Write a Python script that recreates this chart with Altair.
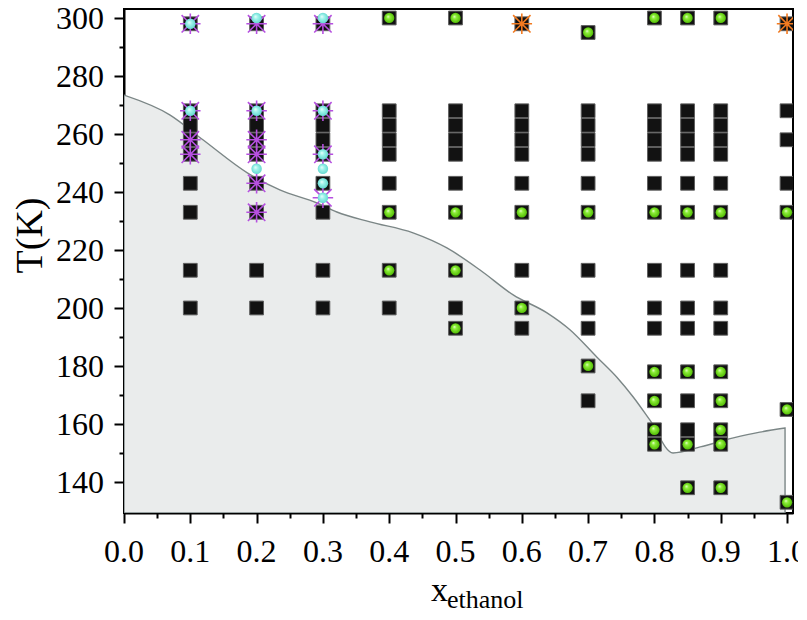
import altair as alt
import pandas as pd

# ---------------- data ----------------
# outline of the shaded (glassy / supercooled) region
boundary_x = [0.0, 0.069, 0.119, 0.186, 0.235, 0.291, 0.321, 0.371, 0.436, 0.487,
              0.537, 0.587, 0.638, 0.673, 0.713, 0.743, 0.768, 0.793, 0.828, 0.869,
              0.919, 0.959, 0.997]
boundary_T = [273.4, 266.6, 258.0, 246.6, 240.7, 236.2, 233.1, 229.7, 225.9, 220.7,
              213.1, 204.5, 198.3, 192.4, 183.1, 176.2, 169.3, 161.4, 150.0, 152.1,
              155.2, 157.2, 158.6]

# black squares
sq_x = ([0.1] * 9 + [0.2] * 9 + [0.3] * 9 + [0.4] * 9 + [0.5] * 10 + [0.6] * 10 +
        [0.7] * 12 + [0.8] * 14 + [0.85] * 15 + [0.9] * 15 + [1.0] * 7)
sq_T = ([298, 268, 263, 258, 253, 243, 233, 213, 200] +
        [298, 268, 263, 258, 253, 243, 233, 213, 200] +
        [298, 268, 263, 258, 253, 243, 233, 213, 200] +
        [300, 268, 263, 258, 253, 243, 233, 213, 200] +
        [300, 268, 263, 258, 253, 243, 233, 213, 200, 193] +
        [298, 268, 263, 258, 253, 243, 233, 213, 200, 193] +
        [295, 268, 263, 258, 253, 243, 233, 213, 200, 193, 180, 168] +
        [300, 268, 263, 258, 253, 243, 233, 213, 200, 193, 178, 168, 158, 153] +
        [300, 268, 263, 258, 253, 243, 233, 213, 200, 193, 178, 168, 158, 153, 138] +
        [300, 268, 263, 258, 253, 243, 233, 213, 200, 193, 178, 168, 158, 153, 138] +
        [298, 268, 258, 243, 233, 165, 133])

# green circles
gr_x = ([0.4] * 3 + [0.5] * 4 + [0.6] * 2 + [0.7] * 3 + [0.8] * 6 + [0.85] * 5 +
        [0.9] * 7 + [1.0] * 3)
gr_T = ([300, 233, 213] + [300, 233, 213, 193] + [233, 200] + [295, 233, 180] +
        [300, 233, 178, 168, 158, 153] + [300, 233, 178, 153, 138] +
        [300, 233, 178, 168, 158, 153, 138] + [233, 165, 133])

# cyan circles
cy_x = [0.1, 0.1, 0.2, 0.2, 0.2, 0.3, 0.3, 0.3, 0.3, 0.3, 0.3]
cy_T = [298, 268, 300, 268, 248, 300, 268, 253, 248, 243, 238]

# purple asterisks
pu_x = [0.1, 0.1, 0.1, 0.1, 0.2, 0.2, 0.2, 0.2, 0.2, 0.2, 0.3, 0.3, 0.3, 0.3]
pu_T = [298, 268, 258, 253, 298, 268, 258, 253, 243, 233, 298, 268, 253, 238]

# orange asterisks
or_x = [0.6, 1.0]
or_T = [298, 298]

# axes
x_major_ticks = [0.0, 0.1, 0.2, 0.3, 0.4, 0.5, 0.6, 0.7, 0.8, 0.9, 1.0]
x_tick_labels = ["0.0", "0.1", "0.2", "0.3", "0.4", "0.5", "0.6", "0.7", "0.8",
                 "0.9", "1.0"]
x_minor_ticks = [0.05, 0.15, 0.25, 0.35, 0.45, 0.55, 0.65, 0.75, 0.85, 0.95]
y_major_ticks = [140, 160, 180, 200, 220, 240, 260, 280, 300]
y_tick_labels = ["140", "160", "180", "200", "220", "240", "260", "280", "300"]
y_minor_ticks = [150, 170, 190, 210, 230, 250, 270, 290]
x_domain = [0.0, 1.009]
T_domain = [129.3, 303.1]
y_title = "T(K)"
x_title_main = "x"
x_title_sub = "ethanol"

# ---------------- chart ----------------
W, H = 669, 504
SERIF = "Liberation Serif"
LABEL_SIZE = 32

x_axis_major = alt.Axis(
    values=x_major_ticks, title=None, orient="bottom", labels=False,
    tickSize=10, grid=False, tickColor="black", tickWidth=2,
    domainColor="black", domainWidth=2)
y_axis_major = alt.Axis(
    values=y_major_ticks, orient="left", labels=False,
    tickSize=10, grid=False, tickColor="black", tickWidth=2,
    domainColor="black", domainWidth=2,
    title=y_title, titleFont=SERIF, titleFontSize=38, titleFontWeight="normal",
    titleColor="black", titleAngle=270, titleAlign="center",
    titleBaseline="alphabetic", titleX=-83, titleY=226)
x_axis_minor = alt.Axis(values=x_minor_ticks, title=None, orient="bottom",
                        labels=False, domain=False, tickSize=5, grid=False,
                        tickColor="black", tickWidth=2)
y_axis_minor = alt.Axis(values=y_minor_ticks, title=None, orient="left",
                        labels=False, domain=False, tickSize=5, grid=False,
                        tickColor="black", tickWidth=2)

xs = alt.Scale(domain=x_domain, nice=False, zero=False)
ys = alt.Scale(domain=T_domain, nice=False, zero=False)


def enc(chart, xa=None, ya=None):
    return chart.encode(
        x=alt.X("x:Q", scale=xs, axis=xa),
        y=alt.Y("T:Q", scale=ys, axis=ya),
    )


df_b = pd.DataFrame({"x": boundary_x, "T": boundary_T})
area = enc(alt.Chart(df_b).mark_area(
    fill="#eaecec", stroke="#7b8686", strokeWidth=1.4, clip=True,
    interpolate="monotone"), x_axis_major, y_axis_major).encode(
        y2=alt.datum(T_domain[0]))

minor = enc(alt.Chart(df_b).mark_point(opacity=0, clip=True),
            x_axis_minor, y_axis_minor)

squares = enc(alt.Chart(pd.DataFrame({"x": sq_x, "T": sq_T})).mark_point(
    shape="square", size=190, filled=True, fill="#121212", stroke="#5e5e5e",
    strokeWidth=1, opacity=1, clip=True))

ASTERISK = ("M-1,0L1,0M0,-1L0,1M-0.85,-0.85L0.85,0.85M-0.85,0.85L0.85,-0.85")

purple = enc(alt.Chart(pd.DataFrame({"x": pu_x, "T": pu_T})).mark_point(
    shape=ASTERISK, size=420, filled=False, stroke="#b650e0", strokeWidth=1.6,
    opacity=1, clip=True))

orange = enc(alt.Chart(pd.DataFrame({"x": or_x, "T": or_T})).mark_point(
    shape=ASTERISK, size=420, filled=False, stroke="#f27a20", strokeWidth=1.6,
    opacity=1, clip=True))

green_fill = {
    "gradient": "radial", "x1": 0.38, "y1": 0.35, "r1": 0.0,
    "x2": 0.5, "y2": 0.5, "r2": 0.55,
    "stops": [{"offset": 0.0, "color": "#f2ffe4"},
              {"offset": 0.3, "color": "#90f03c"},
              {"offset": 1.0, "color": "#4cb800"}],
}
cyan_fill = {
    "gradient": "radial", "x1": 0.38, "y1": 0.35, "r1": 0.0,
    "x2": 0.5, "y2": 0.5, "r2": 0.55,
    "stops": [{"offset": 0.0, "color": "#f4fffd"},
              {"offset": 0.35, "color": "#a2f4ec"},
              {"offset": 1.0, "color": "#5cd6cc"}],
}

green = enc(alt.Chart(pd.DataFrame({"x": gr_x, "T": gr_T})).mark_point(
    shape="circle", size=105, filled=True, fill=green_fill, strokeWidth=0,
    opacity=1, clip=True))

cyan = enc(alt.Chart(pd.DataFrame({"x": cy_x, "T": cy_T})).mark_point(
    shape="circle", size=110, filled=True, fill=cyan_fill, strokeWidth=0,
    opacity=1, clip=True))

# tick labels as text marks, placed through the shared scales
xlab = alt.Chart(pd.DataFrame({"x": x_major_ticks, "lab": x_tick_labels})).mark_text(
    font=SERIF, fontSize=LABEL_SIZE, align="center", baseline="alphabetic",
    color="black"
).encode(x=alt.X("x:Q", scale=xs, axis=None), y=alt.value(H + 49), text="lab:N")

ylab = alt.Chart(pd.DataFrame({"T": y_major_ticks, "lab": y_tick_labels})).mark_text(
    font=SERIF, fontSize=LABEL_SIZE, align="right", baseline="middle",
    color="black", dy=1
).encode(y=alt.Y("T:Q", scale=ys, axis=None), x=alt.value(-20), text="lab:N")

title_main = alt.Chart(pd.DataFrame({"t": [x_title_main]})).mark_text(
    font=SERIF, fontSize=34, align="left", baseline="alphabetic", color="black"
).encode(text="t:N", x=alt.value(307), y=alt.value(592))

title_sub = alt.Chart(pd.DataFrame({"t": [x_title_sub]})).mark_text(
    font=SERIF, fontSize=26, align="left", baseline="alphabetic", color="black"
).encode(text="t:N", x=alt.value(323), y=alt.value(599))

chart = alt.layer(
    area, minor, squares, purple, orange, green, cyan, xlab, ylab,
    title_main, title_sub
).resolve_axis(
    x="independent", y="independent"
).properties(
    width=W, height=H,
    padding={"left": 116, "top": 1, "right": 5, "bottom": 102},
    autosize=alt.AutoSizeParams(type="none"),
    background="white",
).configure_view(
    stroke="black", strokeWidth=2
).configure_axis(
    titleFont=SERIF,
)

chart.save("out.html", embed_options={"renderer": "svg", "actions": False})
